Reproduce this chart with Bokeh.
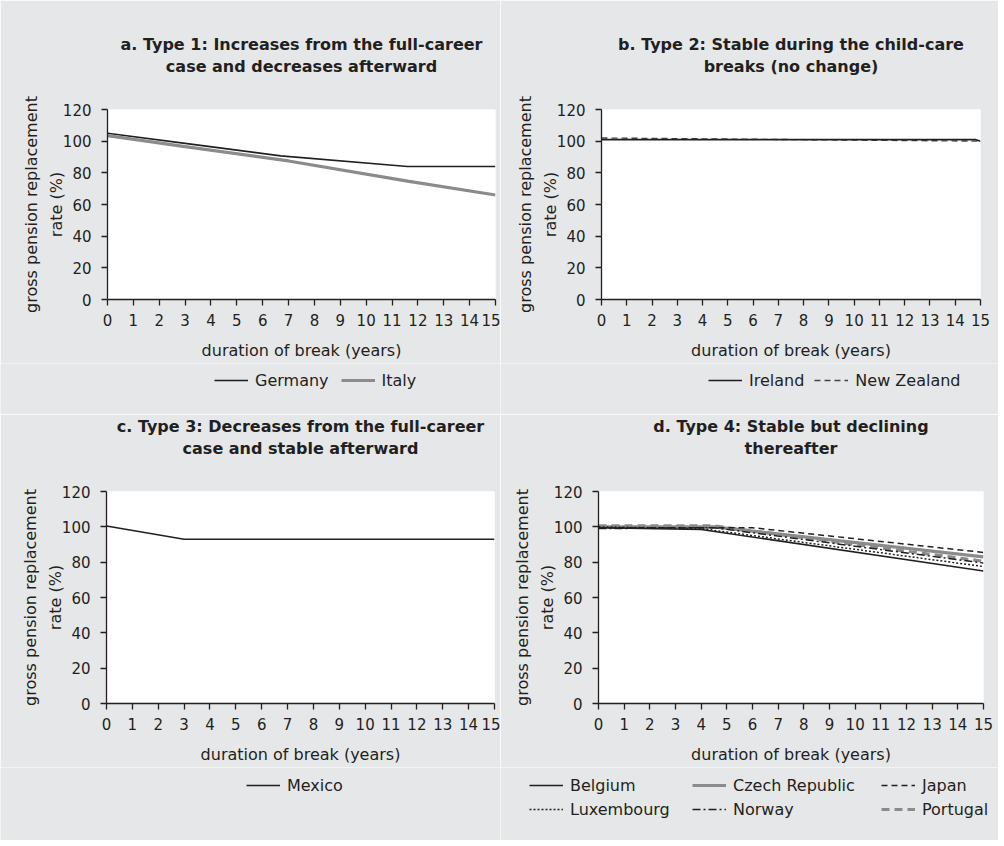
from bokeh.plotting import figure
from bokeh.models import Range1d, FixedTicker, Legend, LegendItem, Title
from bokeh.layouts import row, column
from bokeh.embed import file_html
from bokeh.resources import INLINE

# ---------------- data ----------------
x_ticks = list(range(0, 16))
y_ticks = [0, 20, 40, 60, 80, 100, 120]

# a. Type 1
germany_x = [0, 3, 6.7, 11.6, 15]
germany_y = [105, 98.6, 90.7, 84, 84]
italy_x = [0, 3, 7, 11.6, 15]
italy_y = [103.5, 96.5, 87.5, 74.8, 66]

# b. Type 2
ireland_x = [0, 14.8, 15]
ireland_y = [101, 101, 100]
nz_x = [0, 15]
nz_y = [102, 100]

# c. Type 3
mexico_x = [0, 3, 15]
mexico_y = [100.5, 93, 93]

# d. Type 4
belgium_x = [0, 4, 15]
belgium_y = [99.5, 98.5, 75]
czech_x = [0, 4.5, 15]
czech_y = [100, 100, 83]
japan_x = [0, 6, 15]
japan_y = [99.5, 99.5, 85.5]
luxembourg_x = [0, 4, 15]
luxembourg_y = [100, 99, 77.5]
norway_x = [0, 4.5, 15]
norway_y = [99, 99.5, 79.5]
portugal_x = [0, 4.5, 15]
portugal_y = [100.5, 100.5, 80.5]

SERIES = {
    "Germany": (germany_x, germany_y),
    "Italy": (italy_x, italy_y),
    "Ireland": (ireland_x, ireland_y),
    "New Zealand": (nz_x, nz_y),
    "Mexico": (mexico_x, mexico_y),
    "Belgium": (belgium_x, belgium_y),
    "Czech Republic": (czech_x, czech_y),
    "Japan": (japan_x, japan_y),
    "Luxembourg": (luxembourg_x, luxembourg_y),
    "Norway": (norway_x, norway_y),
    "Portugal": (portugal_x, portugal_y),
}

# ---------------- style ----------------
TXT = "#231f20"
GRAY = "#8b8b8d"
BG = "#e6e7e8"
FONT = "DejaVu Sans"
Y_LABEL = "gross pension replacement\nrate (%)"
X_LABEL = "duration of break (years)"

STYLES = {
    "Germany": dict(line_color=TXT, line_width=1.6),
    "Italy": dict(line_color=GRAY, line_width=3.2),
    "Ireland": dict(line_color=TXT, line_width=1.6),
    "New Zealand": dict(line_color="#444444", line_width=1.4, line_dash="6 4"),
    "Mexico": dict(line_color=TXT, line_width=1.6),
    "Belgium": dict(line_color=TXT, line_width=1.6),
    "Czech Republic": dict(line_color=GRAY, line_width=3.2),
    "Japan": dict(line_color=TXT, line_width=1.5, line_dash="6 4"),
    "Luxembourg": dict(line_color=TXT, line_width=1.5, line_dash="2 2"),
    "Norway": dict(line_color=TXT, line_width=1.5, line_dash="8 3 2 3"),
    "Portugal": dict(line_color=GRAY, line_width=3.2, line_dash="8 5"),
}


def make_fig(lines, left, fw, right, top, fh, bottom):
    p = figure(frame_width=fw, frame_height=fh, title=None,
               min_border_left=left, min_border_right=right,
               min_border_top=top, min_border_bottom=bottom,
               x_range=Range1d(0, 15), y_range=Range1d(0, 120),
               output_backend="svg", toolbar_location=None)
    p.background_fill_color = "white"
    p.border_fill_color = BG
    p.outline_line_color = None
    p.xgrid.visible = False
    p.ygrid.visible = False
    p.xaxis.ticker = FixedTicker(ticks=x_ticks)
    p.yaxis.ticker = FixedTicker(ticks=y_ticks)
    for ax in (p.xaxis, p.yaxis):
        ax.axis_line_color = TXT
        ax.axis_line_width = 1.3
        ax.major_tick_line_color = TXT
        ax.major_tick_line_width = 1.3
        ax.major_tick_out = 6
        ax.major_tick_in = 0
        ax.minor_tick_out = 0
        ax.minor_tick_in = 0
        ax.major_label_text_font = FONT
        ax.major_label_text_font_size = "15px"
        ax.major_label_text_color = TXT
        ax.axis_label_text_font = FONT
        ax.axis_label_text_font_size = "16px"
        ax.axis_label_text_font_style = "normal"
        ax.axis_label_text_color = TXT
    p.xaxis.major_label_standoff = 8
    p.yaxis.major_label_standoff = 10
    p.xaxis.axis_label = X_LABEL
    p.xaxis.axis_label_standoff = 12
    p.yaxis.axis_label = Y_LABEL
    p.yaxis.axis_label_text_line_height = 1.3
    p.yaxis.axis_label_standoff = -6

    # titles: spacer (closest to frame), second line, first line (outermost)
    p.add_layout(Title(text=" ", text_font_size="1px", standoff=30), "above")
    for t in (lines[1], lines[0]):
        p.add_layout(Title(text=t, align="center", text_font=FONT,
                           text_font_size="16px", text_font_style="bold",
                           text_color=TXT, standoff=1), "above")
    return p


def legend_fig(width, height, columns, orientation="horizontal", spacing=12):
    """A strip below a panel holding its legend; columns = [(names, (vx, vy))].
    The key lines reuse the series data, which lies outside this strip's range."""
    q = figure(frame_width=width, frame_height=height, title=None,
               min_border_left=0, min_border_right=0,
               min_border_top=0, min_border_bottom=0,
               x_range=Range1d(0, 1), y_range=Range1d(0, 1),
               x_axis_type=None, y_axis_type=None,
               output_backend="svg", toolbar_location=None)
    q.background_fill_color = BG
    q.border_fill_color = BG
    q.outline_line_color = None
    for names, loc in columns:
        items = []
        for n in names:
            xs, ys = SERIES[n]
            r = q.line(xs, ys, **STYLES[n])
            items.append(LegendItem(label=n, renderers=[r]))
        q.add_layout(Legend(items=items, location=loc, orientation=orientation,
                            background_fill_alpha=0, border_line_color=None,
                            label_text_font=FONT, label_text_font_size="16px",
                            label_text_color=TXT, glyph_width=34, glyph_height=20,
                            label_height=20, label_standoff=7, spacing=spacing,
                            margin=0, padding=4))
    return q


def draw(p, names):
    for n in names:
        xs, ys = SERIES[n]
        p.line(xs, ys, **STYLES[n])


# ---- panel a
pa = make_fig(["a. Type 1: Increases from the full-career",
               "case and decreases afterward"], 107, 388, 5, 109, 190, 64)
draw(pa, ["Germany", "Italy"])
la = legend_fig(500, 51, [(["Germany", "Italy"], (214, 24))], spacing=12)

# ---- panel b
pb = make_fig(["b. Type 2: Stable during the child-care",
               "breaks (no change)"], 101, 379, 18, 109, 190, 64)
draw(pb, ["New Zealand", "Ireland"])
lb = legend_fig(498, 51, [(["Ireland", "New Zealand"], (208, 24))], spacing=10)

# ---- panel c
pc = make_fig(["c. Type 3: Decreases from the full-career",
               "case and stable afterward"], 106, 388, 6, 77, 212, 64)
draw(pc, ["Mexico"])
lc = legend_fig(500, 73, [(["Mexico"], (246, 45))])

# ---- panel d
pd_ = make_fig(["d. Type 4: Stable but declining",
                "thereafter"], 98, 385, 15, 77, 212, 64)
draw(pd_, ["Czech Republic", "Portugal", "Japan", "Norway", "Luxembourg", "Belgium"])
ld = legend_fig(498, 73, [(["Belgium", "Luxembourg"], (29, 21)),
                          (["Czech Republic", "Norway"], (192, 21)),
                          (["Japan", "Portugal"], (381, 21))],
                orientation="vertical", spacing=4)

layout = column(row(pa, pb), row(la, lb), row(pc, pd_), row(lc, ld))

open("out.html", "w").write(file_html(layout, INLINE))
